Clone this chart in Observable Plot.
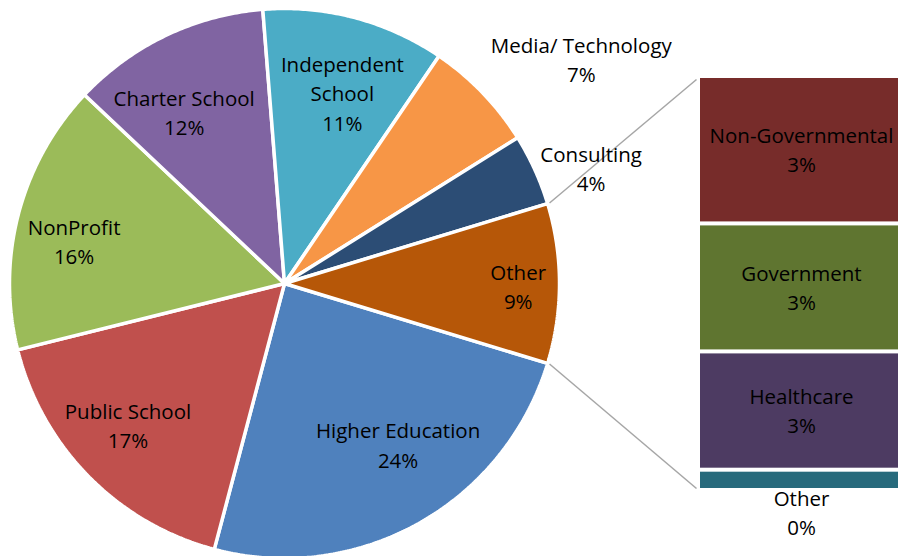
<!DOCTYPE html>
<html><head><meta charset="utf-8">
<script src="https://cdn.jsdelivr.net/npm/d3@7"></script>
<script src="https://cdn.jsdelivr.net/npm/@observablehq/plot@0.6"></script>
<style>body{margin:0;background:#fff} svg{display:block;overflow:visible}</style>
</head><body><div id="chart"></div>
<script>
// ---- data ----
const pieCategories = ["Higher Education","Public School","NonProfit","Charter School","Independent School","Media/ Technology","Consulting"];
const pieLabels = ["Higher Education","Public School","NonProfit","Charter School","Independent\nSchool","Media/ Technology","Consulting"];
const pieShares = [24.4, 17.0, 15.9, 11.7, 10.75, 6.6, 4.2];
const pieColors = ["#4F81BD","#C0504D","#9BBB59","#8064A2","#4BACC6","#F79646","#2C4D75"];
const otherLabel = "Other";
const otherColor = "#B65708";
const barCategories = ["Non-Governmental","Government","Healthcare","Other"];
const barShares = [3.34, 2.90, 2.68, 0.46];
const barColors = ["#772C2A","#5F7530","#4D3B62","#276A7C"];

// ---- layout ----
const W = 898, H = 556;
const cx = 284, cy = 283, R = 275;
const barX0 = 700, barX1 = 902, barTop = 76, barBottom = 490;
const labelRadius = [0.72, 0.77, 0.78, 0.72, 0.72, 1.35, 1.19, 0.85];
const labelShift = [-5.85, 2.25, -3.5, -4.85, 2.15, 7, 4, 1];
const font = "'Open Sans', sans-serif";

const otherShare = d3.sum(barShares);
const names = [...pieLabels, otherLabel];
const shares = [...pieShares, otherShare];
const colors = [...pieColors, otherColor];
const total = d3.sum(shares);
const half = otherShare / total * Math.PI;

// slices (angles clockwise from 3 o'clock, screen y down)
let acc = half;
const slices = shares.map((v, i) => {
  const a0 = acc, a1 = acc + v / total * 2 * Math.PI;
  acc = a1;
  return {i, name: names[i], value: v, color: colors[i], a0, a1};
});
const polyPts = [];
for (const s of slices) {
  polyPts.push({key: s.i, x: cx, y: cy, color: s.color});
  const n = Math.max(2, Math.ceil((s.a1 - s.a0) / (Math.PI / 360)));
  for (let k = 0; k <= n; k++) {
    const a = s.a0 + (s.a1 - s.a0) * k / n;
    polyPts.push({key: s.i, x: cx + R * Math.cos(a), y: cy + R * Math.sin(a), color: s.color});
  }
  polyPts.push({key: s.i, x: cx, y: cy, color: s.color});
}
const sliceLabels = slices.map(s => {
  const a = (s.a0 + s.a1) / 2 + labelShift[s.i] * Math.PI / 180;
  const r = R * labelRadius[s.i];
  return {x: cx + r * Math.cos(a), y: cy + r * Math.sin(a),
          text: `${s.name}\n${Math.round(s.value / total * 100)}%`};
});

// bar of "Other"
const barScale = d3.scaleLinear().domain([0, otherShare]).range([barTop, barBottom]);
let cum = 0;
const barRows = barCategories.map((c, i) => {
  const y1 = barScale(cum); cum += barShares[i]; const y2 = barScale(cum);
  return {name: c, value: barShares[i], color: barColors[i], y1, y2};
});
const barLabels = barRows.map(b => {
  const inside = (b.y2 - b.y1) > 40;
  return {x: (barX0 + barX1) / 2, y: inside ? (b.y1 + b.y2) / 2 : b.y2 + 23,
          text: `${b.name}\n${Math.round(b.value / total * 100)}%`};
});

// connectors
const oa0 = -half, oa1 = half;
const links = [
  {x1: cx + (R + 2) * Math.cos(oa0), y1: cy + (R + 2) * Math.sin(oa0), x2: barX0 - 4, y2: barTop + 3},
  {x1: cx + (R + 2) * Math.cos(oa1), y1: cy + (R + 2) * Math.sin(oa1), x2: barX0 - 4, y2: barBottom - 2}
];

const chart = Plot.plot({
  width: W, height: H,
  margin: 0,
  x: {domain: [0, W], range: [0, W], axis: null},
  y: {domain: [0, H], range: [0, H], axis: null},
  color: {type: "identity"},
  style: {fontFamily: font, background: "#fff"},
  marks: [
    Plot.line(polyPts, {x: "x", y: "y", z: "key", fill: "color", stroke: "white", strokeWidth: 3.5, strokeLinejoin: "miter", curve: "linear"}),
    Plot.link(links, {x1: "x1", y1: "y1", x2: "x2", y2: "y2", stroke: "#A6A6A6", strokeWidth: 1.5}),
    Plot.rect(barRows, {x1: () => barX0, x2: () => barX1, y1: "y1", y2: "y2", fill: "color", insetTop: 2, insetBottom: 2}),
    Plot.text(sliceLabels, {x: "x", y: "y", dy: -2, text: "text", fontSize: 20.5, lineHeight: 1.42, fill: "#000", fontFamily: font}),
    Plot.text(barLabels, {x: "x", y: "y", dy: -2, text: "text", fontSize: 20.5, lineHeight: 1.42, fill: "#000", fontFamily: font})
  ]
});
document.getElementById("chart").appendChild(chart);
</script>
</body></html>
